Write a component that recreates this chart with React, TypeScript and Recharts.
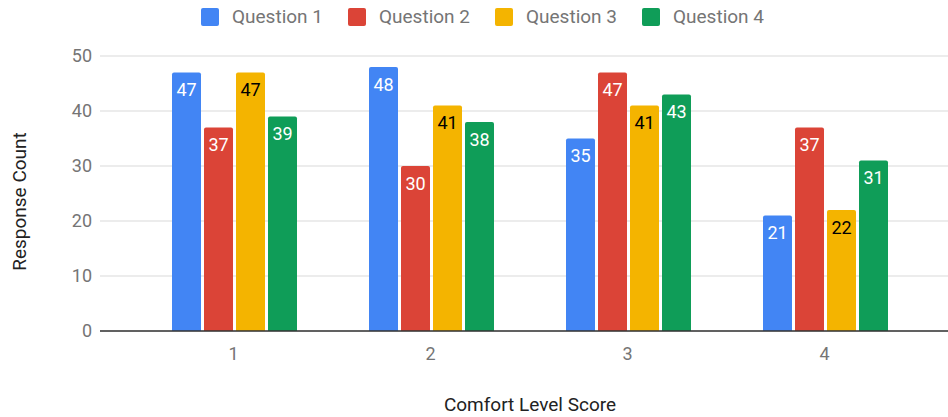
import { BarChart, Bar, XAxis, YAxis, CartesianGrid, LabelList, Label } from 'recharts'

const categories = ['1', '2', '3', '4']
const question1 = [47, 48, 35, 21]
const question2 = [37, 30, 47, 37]
const question3 = [47, 41, 41, 22]
const question4 = [39, 38, 43, 31]

const SERIES = [
  { key: 'q1', name: 'Question 1', color: '#4285F4', text: '#ffffff' },
  { key: 'q2', name: 'Question 2', color: '#DB4437', text: '#ffffff' },
  { key: 'q3', name: 'Question 3', color: '#F4B400', text: '#000000' },
  { key: 'q4', name: 'Question 4', color: '#0F9D58', text: '#ffffff' },
]

const data = categories.map((c, i) => ({
  cat: c, q1: question1[i], q2: question2[i], q3: question3[i], q4: question4[i],
}))

const FONT = 'Roboto, "Noto Sans", sans-serif'
const GREY = '#757575'

export default function App() {
  return (
    <div style={{ position: 'absolute', left: 0, top: 0, width: 948, height: 417, fontFamily: FONT, background: '#fff' }}>
      {/* legend */}
      <div style={{ position: 'absolute', left: 201, top: 8, display: 'flex', height: 18 }}>
        {SERIES.map(s => (
          <div key={s.key} style={{ width: 147, display: 'flex', alignItems: 'center' }}>
            <span style={{ width: 18, height: 18, borderRadius: 2, background: s.color, display: 'inline-block', flexShrink: 0 }} />
            <span style={{ marginLeft: 13, fontSize: 19, color: GREY, lineHeight: '18px', whiteSpace: 'nowrap' }}>{s.name}</span>
          </div>
        ))}
      </div>

      <BarChart width={948} height={417} data={data}
        margin={{ top: 56, right: 0, bottom: 0, left: 0 }}
        barCategoryGap={37} barGap={3}>
        <CartesianGrid vertical={false} stroke="#d9d9d9" />
        <XAxis dataKey="cat" height={86} padding={{ left: 35, right: 25 }}
          tickLine={false} axisLine={{ stroke: '#333', strokeWidth: 1.5 }} tickMargin={10}
          tick={{ fontSize: 18, fill: GREY, fontFamily: FONT }}>
          <Label value="Comfort Level Score" position="insideBottom" offset={6} dx={6}
            style={{ fontSize: 19, fill: '#222', fontFamily: FONT }} />
        </XAxis>
        <YAxis width={100} domain={[0, 50]} ticks={[0, 10, 20, 30, 40, 50]}
          tickLine={false} axisLine={false}
          tick={{ fontSize: 18, fill: GREY, fontFamily: FONT }}>
          <Label content={({ viewBox }: any) => {
            const cy = viewBox.y + viewBox.height / 2 + 8
            return (
              <text x={26} y={cy} transform={`rotate(-90 26 ${cy})`}
                textAnchor="middle" fontSize={19} fill="#222" fontFamily={FONT}>Response Count</text>
            )
          }} />
        </YAxis>
        {SERIES.map(s => (
          <Bar key={s.key} dataKey={s.key} name={s.name} fill={s.color} radius={[2, 2, 0, 0]} isAnimationActive={false}>
            <LabelList dataKey={s.key} position="insideTop" offset={11}
              style={{ fontSize: 18, fill: s.text, fontFamily: FONT }} />
          </Bar>
        ))}
      </BarChart>
    </div>
  )
}
